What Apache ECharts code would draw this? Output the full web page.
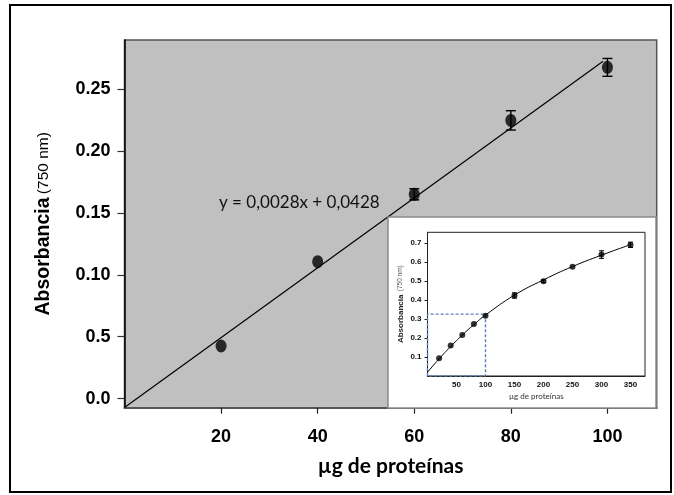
<!DOCTYPE html>
<html>
<head>
<meta charset="utf-8">
<script src="https://cdn.jsdelivr.net/npm/echarts@6/dist/echarts.min.js"></script>
<style>
  html, body { margin: 0; padding: 0; background: #fff; }
  #chart { width: 674px; height: 495px; }
</style>
</head>
<body>
<div id="chart"></div>
<script>
// Linear range of the calibration (main panel)
const proteinUg = [20, 40, 60, 80, 100];
const absorbance = [0.0425, 0.1106, 0.165, 0.2247, 0.2675];
const absorbanceErr = [0, 0, 0.0045, 0.0078, 0.0072];
// least-squares line through the five means
const trendX = [0, 99.1];
const trendY = [-0.0072, 0.2724];
const equationText = 'y = 0,0028x + 0,0428';
const yTickValues = [0, 0.05, 0.10, 0.15, 0.20, 0.25];
const yTickLabels = ['0.0', '0.5', '0.10', '0.15', '0.20', '0.25'];
const xTickValues = [20, 40, 60, 80, 100];

// Full calibration range (inset)
const insetProtein = [20, 40, 60, 80, 100, 150, 200, 250, 300, 350];
const insetAbs = [0.093, 0.16, 0.216, 0.273, 0.317, 0.423, 0.498, 0.574, 0.638, 0.689];
const insetErr = [0, 0, 0, 0, 0, 0.014, 0.007, 0, 0.02, 0.014];
const insetFitX = [0, 20, 40, 60, 80, 100, 150, 200, 250, 300, 350];
const insetFitY = [0.02, 0.09, 0.155, 0.215, 0.27, 0.32, 0.425, 0.505, 0.575, 0.635, 0.69];
const insetBoxX = [0, 0, 100, 100, 0];
const insetBoxY = [0, 0.325, 0.325, 0, 0];
const insetXTicks = [50, 100, 150, 200, 250, 300, 350];
const insetYTicks = [0.1, 0.2, 0.3, 0.4, 0.5, 0.6, 0.7];

const zip = (a, b) => a.map((v, i) => [v, b[i]]);

function errorBars(capHalf, lineWidth) {
  return function (params, api) {
    const x = api.value(0), lo = api.value(1), hi = api.value(2);
    if (hi === lo) return null;
    const top = api.coord([x, hi]);
    const bot = api.coord([x, lo]);
    const style = { stroke: '#000', lineWidth: lineWidth };
    return {
      type: 'group',
      children: [
        { type: 'line', shape: { x1: top[0], y1: top[1], x2: bot[0], y2: bot[1] }, style },
        { type: 'line', shape: { x1: top[0] - capHalf, y1: top[1], x2: top[0] + capHalf, y2: top[1] }, style },
        { type: 'line', shape: { x1: bot[0] - capHalf, y1: bot[1], x2: bot[0] + capHalf, y2: bot[1] }, style }
      ]
    };
  };
}

const chart = echarts.init(document.getElementById('chart'), null, { renderer: 'canvas' });

const mainLabelFont = { fontFamily: 'Liberation Sans', fontWeight: 'bold', fontSize: 18, color: '#000' };
const insetLabelFont = { fontFamily: 'Liberation Sans', fontWeight: 'bold', fontSize: 8, color: '#111' };

chart.setOption({
  animation: false,
  backgroundColor: '#fff',
  graphic: [
    {
      type: 'rect', z: 1,
      shape: { x: 10, y: 5, width: 661, height: 487 },
      style: { fill: 'none', stroke: '#000', lineWidth: 2 }
    },
    {
      type: 'rect', z: 5,
      shape: { x: 388, y: 217, width: 268, height: 191 },
      style: { fill: '#fff', stroke: '#8a8a8a', lineWidth: 1.5 }
    },
    {
      type: 'text', z: 4,
      x: 219, y: 203,
      style: {
        text: equationText,
        fontFamily: 'Lato', fontSize: 17, fill: '#111',
        verticalAlign: 'middle', align: 'left'
      }
    }
  ],
  grid: [
    {
      left: 124.5, top: 40, width: 532.2, height: 367.7,
      show: true, backgroundColor: '#c0c0c0', borderColor: '#555', borderWidth: 1.5
    },
    {
      left: 427.5, top: 232.3, width: 217.5, height: 143.7, z: 10,
      show: true, backgroundColor: 'rgba(0,0,0,0)', borderColor: '#222', borderWidth: 1
    }
  ],
  xAxis: [
    {
      type: 'value', gridIndex: 0, min: 0, max: 110.2,
      splitLine: { show: false },
      axisLine: { show: true, onZero: false, lineStyle: { color: '#555', width: 2 } },
      axisTick: { show: true, length: 6, customValues: xTickValues, lineStyle: { color: '#222', width: 1.2 } },
      axisLabel: { customValues: xTickValues, margin: 20, ...mainLabelFont },
      name: 'µg de proteínas', nameLocation: 'middle', nameGap: 48,
      nameTextStyle: { fontFamily: 'Lato', fontWeight: 'bold', fontSize: 21, color: '#000' }
    },
    {
      type: 'value', gridIndex: 1, min: 0, max: 375, z: 11,
      splitLine: { show: false },
      axisLine: { show: true, onZero: false, lineStyle: { color: '#222', width: 1 } },
      axisTick: { show: false },
      axisLabel: { customValues: insetXTicks, margin: 5, ...insetLabelFont },
      name: 'µg de proteínas', nameLocation: 'middle', nameGap: 16,
      nameTextStyle: { fontFamily: 'Lato', fontSize: 8, color: '#333' }
    }
  ],
  yAxis: [
    {
      type: 'value', gridIndex: 0, min: -0.0073, max: 0.2896,
      splitLine: { show: false },
      axisLine: { show: true, onZero: false, lineStyle: { color: '#000', width: 1.5 } },
      axisTick: { show: true, length: 7, customValues: yTickValues, lineStyle: { color: '#333', width: 1.2 } },
      axisLabel: {
        customValues: yTickValues, margin: 14, ...mainLabelFont,
        formatter: v => {
          const i = yTickValues.findIndex(t => Math.abs(t - v) < 1e-6);
          return i >= 0 ? yTickLabels[i] : '';
        }
      },
      name: '{b|Absorbancia} {n|(750 nm)}', nameLocation: 'middle', nameGap: 71,
      nameTextStyle: {
        rich: {
          b: { fontFamily: 'Liberation Sans', fontWeight: 'bold', fontSize: 19.5, color: '#000' },
          n: { fontFamily: 'Liberation Sans', fontSize: 15.5, color: '#000' }
        }
      }
    },
    {
      type: 'value', gridIndex: 1, min: 0, max: 0.755, z: 11,
      splitLine: { show: false },
      axisLine: { show: true, onZero: false, lineStyle: { color: '#222', width: 1 } },
      axisTick: { show: true, length: 3, customValues: insetYTicks, lineStyle: { color: '#222' } },
      axisLabel: { customValues: insetYTicks, margin: 6, ...insetLabelFont, formatter: v => v.toFixed(1) },
      name: '{b|Absorbancia} {n|(750 nm)}', nameLocation: 'middle', nameGap: 21,
      nameTextStyle: {
        rich: {
          b: { fontFamily: 'Liberation Sans', fontWeight: 'bold', fontSize: 8, color: '#222' },
          n: { fontFamily: 'Liberation Sans', fontSize: 6.5, color: '#555' }
        }
      }
    }
  ],
  series: [
    {
      type: 'line', xAxisIndex: 0, yAxisIndex: 0, z: 2,
      data: zip(trendX, trendY), showSymbol: false, symbol: 'none',
      lineStyle: { color: '#000', width: 1.2 }
    },
    {
      type: 'custom', xAxisIndex: 0, yAxisIndex: 0, z: 3,
      renderItem: errorBars(5, 1.4),
      encode: { x: 0, y: [1, 2] },
      data: proteinUg.map((x, i) => [x, absorbance[i] - absorbanceErr[i], absorbance[i] + absorbanceErr[i]])
    },
    {
      type: 'scatter', xAxisIndex: 0, yAxisIndex: 0, z: 4,
      data: zip(proteinUg, absorbance),
      symbol: 'circle', symbolSize: [11, 13],
      itemStyle: { color: '#000' }
    },
    {
      type: 'line', xAxisIndex: 1, yAxisIndex: 1, z: 12,
      data: zip(insetBoxX, insetBoxY), showSymbol: false, symbol: 'none',
      lineStyle: { color: '#5b7fb8', width: 1.4, type: [3, 2] }
    },
    {
      type: 'line', xAxisIndex: 1, yAxisIndex: 1, z: 12,
      data: zip(insetFitX, insetFitY), smooth: true, showSymbol: false, symbol: 'none',
      lineStyle: { color: '#000', width: 1 }
    },
    {
      type: 'custom', xAxisIndex: 1, yAxisIndex: 1, z: 13,
      renderItem: errorBars(2.5, 1),
      encode: { x: 0, y: [1, 2] },
      data: insetProtein.map((x, i) => [x, insetAbs[i] - insetErr[i], insetAbs[i] + insetErr[i]])
    },
    {
      type: 'scatter', xAxisIndex: 1, yAxisIndex: 1, z: 14,
      data: zip(insetProtein, insetAbs),
      symbol: 'circle', symbolSize: 6,
      itemStyle: { color: '#000' }
    }
  ]
});
</script>
</body>
</html>
